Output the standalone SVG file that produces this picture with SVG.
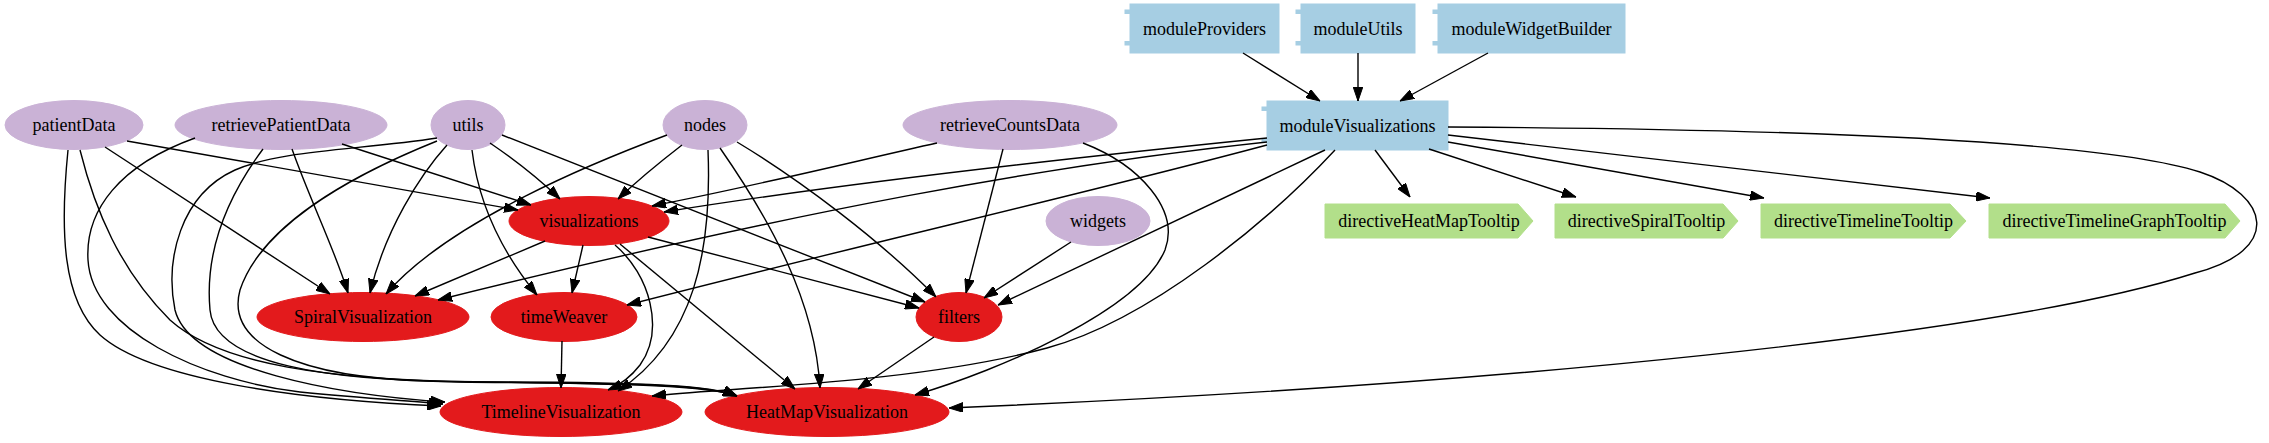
<svg xmlns="http://www.w3.org/2000/svg" width="2269" height="443" viewBox="0 0 2269 443">
<style>
.lbl{font-family:"Liberation Serif",Times,serif;font-size:18px;text-anchor:middle;fill:#000}
.dep{fill:#cab2d6;stroke:#cab2d6}
.fac{fill:#e31a1c;stroke:#e31a1c}
.mod{fill:#a6cee3;stroke:#a6cee3}
.dir{fill:#b2df8a;stroke:#b2df8a}
.e{fill:none;stroke:#000;stroke-width:1.4;marker-end:url(#arr)}
</style>
<defs>
<marker id="arr" markerUnits="userSpaceOnUse" markerWidth="14" markerHeight="10" viewBox="0 0 14 10" refX="14" refY="5" orient="auto">
<path d="M0,0.2 L14,5 L0,9.8 z" fill="#000" stroke="#000" stroke-width="1"/>
</marker>
</defs>
<rect width="2269" height="443" fill="#fff"/>
<g id="nodes">
<g id="patientData"><ellipse class="dep" cx="74" cy="125" rx="69" ry="24.5"/><text class="lbl" x="74" y="131">patientData</text></g>
<g id="retrievePatientData"><ellipse class="dep" cx="281" cy="125" rx="106" ry="24.5"/><text class="lbl" x="281" y="131">retrievePatientData</text></g>
<g id="utils"><ellipse class="dep" cx="468" cy="125" rx="37" ry="24.5"/><text class="lbl" x="468" y="131">utils</text></g>
<g id="nodes_n"><ellipse class="dep" cx="705" cy="125" rx="42" ry="24.5"/><text class="lbl" x="705" y="131">nodes</text></g>
<g id="retrieveCountsData"><ellipse class="dep" cx="1010" cy="125" rx="107" ry="24.5"/><text class="lbl" x="1010" y="131">retrieveCountsData</text></g>
<g id="widgets"><ellipse class="dep" cx="1098" cy="221" rx="52" ry="24.5"/><text class="lbl" x="1098" y="227">widgets</text></g>
<g id="visualizations"><ellipse class="fac" cx="589" cy="221" rx="80" ry="24.5"/><text class="lbl" x="589" y="227">visualizations</text></g>
<g id="SpiralVisualization"><ellipse class="fac" cx="363" cy="317" rx="106" ry="24.5"/><text class="lbl" x="363" y="323">SpiralVisualization</text></g>
<g id="timeWeaver"><ellipse class="fac" cx="564" cy="317" rx="73" ry="24.5"/><text class="lbl" x="564" y="323">timeWeaver</text></g>
<g id="filters"><ellipse class="fac" cx="959" cy="317" rx="43" ry="24.5"/><text class="lbl" x="959" y="323">filters</text></g>
<g id="TimelineVisualization"><ellipse class="fac" cx="561" cy="412" rx="121" ry="24.5"/><text class="lbl" x="561" y="418">TimelineVisualization</text></g>
<g id="HeatMapVisualization"><ellipse class="fac" cx="827" cy="412" rx="122" ry="24.5"/><text class="lbl" x="827" y="418">HeatMapVisualization</text></g>
<g id="moduleProviders"><rect class="mod" x="1130" y="4" width="149" height="49"/><rect class="mod" x="1125" y="10" width="6" height="3.5"/><rect class="mod" x="1125" y="41.5" width="6" height="3.5"/><text class="lbl" x="1204.5" y="34.5">moduleProviders</text></g>
<g id="moduleUtils"><rect class="mod" x="1301" y="4" width="114" height="49"/><rect class="mod" x="1296" y="10" width="6" height="3.5"/><rect class="mod" x="1296" y="41.5" width="6" height="3.5"/><text class="lbl" x="1358" y="34.5">moduleUtils</text></g>
<g id="moduleWidgetBuilder"><rect class="mod" x="1438" y="4" width="187" height="49"/><rect class="mod" x="1433" y="10" width="6" height="3.5"/><rect class="mod" x="1433" y="41.5" width="6" height="3.5"/><text class="lbl" x="1531.5" y="34.5">moduleWidgetBuilder</text></g>
<g id="moduleVisualizations"><rect class="mod" x="1267" y="101" width="181" height="49"/><rect class="mod" x="1262" y="107" width="6" height="3.5"/><rect class="mod" x="1262" y="138.5" width="6" height="3.5"/><text class="lbl" x="1357.5" y="131.5">moduleVisualizations</text></g>
<g id="directiveHeatMapTooltip"><path class="dir" d="M1325,204 L1518,204 L1533,221 L1518,238 L1325,238 Z"/><text class="lbl" x="1429" y="227">directiveHeatMapTooltip</text></g>
<g id="directiveSpiralTooltip"><path class="dir" d="M1555,204 L1723,204 L1738,221 L1723,238 L1555,238 Z"/><text class="lbl" x="1646.5" y="227">directiveSpiralTooltip</text></g>
<g id="directiveTimelineTooltip"><path class="dir" d="M1761,204 L1950,204 L1966,221 L1950,238 L1761,238 Z"/><text class="lbl" x="1863.5" y="227">directiveTimelineTooltip</text></g>
<g id="directiveTimelineGraphTooltip"><path class="dir" d="M1989,204 L2225,204 L2240,221 L2225,238 L1989,238 Z"/><text class="lbl" x="2114.5" y="227">directiveTimelineGraphTooltip</text></g>
</g>
<g id="connectors">
<path class="e" d="M127,141 L518,210"/>
<path class="e" d="M105,147 L330,294"/>
<path class="e" d="M68,150 C60,230 62,300 100,335 C150,380 300,400 441,406"/>
<path class="e" d="M80,150 C95,210 120,270 170,320 C220,365 330,380 480,382 C650,382 715,386 737,396"/>
<path class="e" d="M342,144 L531,205"/>
<path class="e" d="M292,149 C310,200 335,250 348,293"/>
<path class="e" d="M195,138 C120,165 85,210 88,260 C92,330 200,380 300,392 C360,398 410,401 443,404"/>
<path class="e" d="M263,149 C225,200 205,255 210,310 C215,365 330,380 460,382 C600,384 700,382 737,396"/>
<path class="e" d="M447,145 C420,175 385,230 370,293"/>
<path class="e" d="M490,143 C515,160 540,180 560,199"/>
<path class="e" d="M472,150 C478,200 500,250 537,295"/>
<path class="e" d="M502,135 L925,302"/>
<path class="e" d="M437,138 C360,150 280,150 235,170 C180,195 165,260 175,310 C190,370 340,395 445,402"/>
<path class="e" d="M437,141 C340,180 260,230 240,290 C225,345 300,378 430,381 C580,384 700,383 737,396"/>
<path class="e" d="M667,135 C600,160 450,220 386,294"/>
<path class="e" d="M682,145 C660,162 638,180 618,199"/>
<path class="e" d="M708,150 C712,250 695,340 618,391"/>
<path class="e" d="M720,148 C770,220 815,300 820,388"/>
<path class="e" d="M737,142 C800,180 880,240 936,297"/>
<path class="e" d="M937,143 C860,160 760,185 652,206"/>
<path class="e" d="M1003,149 L966,293"/>
<path class="e" d="M1083,143 C1140,165 1180,210 1165,250 C1140,310 1000,370 915,395"/>
<path class="e" d="M1071,242 L984,298"/>
<path class="e" d="M545,241 L415,296"/>
<path class="e" d="M583,245 L572,293"/>
<path class="e" d="M615,245 C650,275 665,330 640,365 C630,378 620,385 608,390"/>
<path class="e" d="M620,244 L795,389"/>
<path class="e" d="M648,237 L919,308"/>
<path class="e" d="M562,341 L561,388"/>
<path class="e" d="M934,337 L858,389"/>
<path class="e" d="M1243,53 L1320,101"/>
<path class="e" d="M1358,53 L1358,101"/>
<path class="e" d="M1488,53 L1400,101"/>
<path class="e" d="M1375,150 L1410,197"/>
<path class="e" d="M1429,149 L1576,197"/>
<path class="e" d="M1448,142 L1764,198"/>
<path class="e" d="M1448,135 L1990,198"/>
<path class="e" d="M1448,127 C1800,129 2100,140 2200,172 C2270,195 2283,250 2195,273 C2000,335 1500,385 949,408"/>
<path class="e" d="M1267,138 C1000,165 800,190 664,212"/>
<path class="e" d="M1267,142 C1050,165 800,210 438,300"/>
<path class="e" d="M1267,145 C1080,195 880,240 627,305"/>
<path class="e" d="M1325,150 L998,305"/>
<path class="e" d="M1335,150 C1270,220 1150,320 1047,348 C913,384 720,388 652,396"/>
</g>
</svg>
